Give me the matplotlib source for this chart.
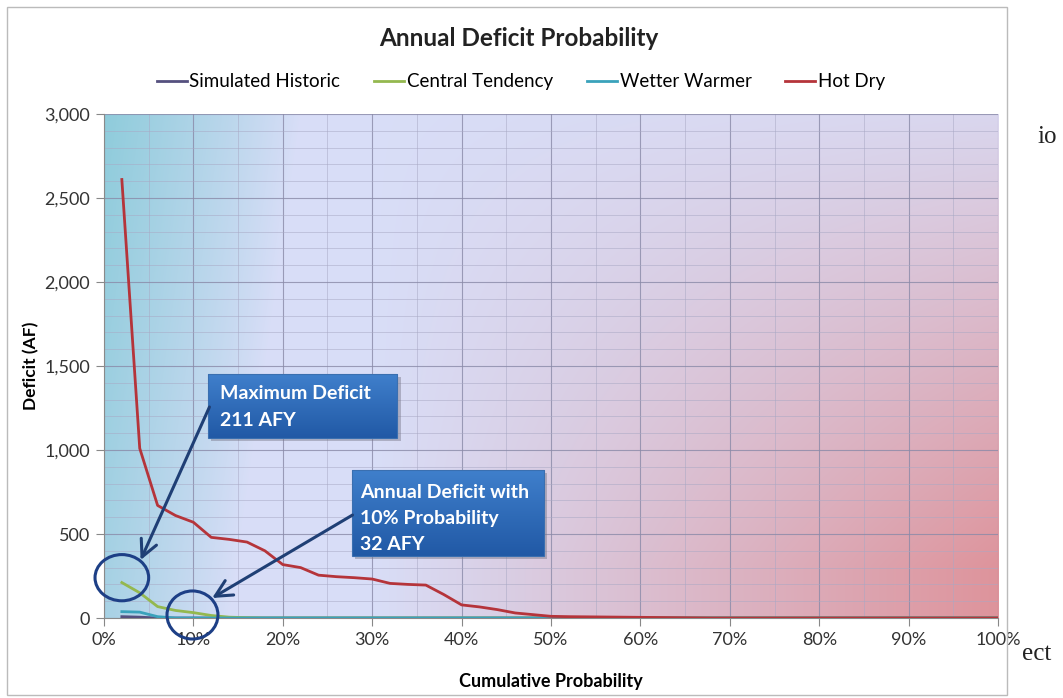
import numpy as np
import matplotlib
matplotlib.use('Agg')
import matplotlib.pyplot as plt
from matplotlib.patches import Ellipse, Rectangle

plt.rcParams['font.family'] = ['Lato', 'DejaVu Sans']

# cumulative probability (%) of each ranked year
prob = [2, 4, 6, 8, 10, 12, 14, 16, 18, 20, 22, 24, 26, 28, 30, 32, 34, 36, 38, 40,
        42, 44, 46, 48, 50, 52, 54, 56, 58, 60, 62, 64, 66, 68, 70, 72, 74, 76, 78, 80,
        82, 84, 86, 88, 90, 92, 94, 96, 98, 100]

hot_dry = [2610, 1010, 670, 610, 570, 480, 468, 452, 400, 318, 300, 255, 246, 240, 232,
           206, 200, 196, 140, 78, 66, 50, 30, 20, 10, 8, 7, 6, 5, 4,
           3, 2, 1, 0, 0, 0, 0, 0, 0, 0, 0, 0, 0, 0, 0, 0, 0, 0, 0, 0]
central = [211, 150, 68, 45, 32, 15, 5, 2] + [0] * 42
wetter = [38, 35, 8] + [0] * 47
historic = [8, 5] + [0] * 48

series = [
    ('Simulated Historic', historic, '#55507f'),
    ('Central Tendency', central, '#94b84f'),
    ('Wetter Warmer', wetter, '#3aa2bb'),
    ('Hot Dry', hot_dry, '#b5343a'),
]

fig = plt.figure(figsize=(10.63, 6.98), dpi=100)
ax = fig.add_axes([0.0978, 0.1146, 0.8411, 0.7221])

# plot-area gradient: cyan top-left, lavender middle, pink bottom-right
h, w = 200, 400
u = np.linspace(0, 1, w)[None, :]
v = np.linspace(1, 0, h)[:, None]
lav = np.array([0.85, 0.87, 0.97])
cyan = np.array([0.56, 0.80, 0.86])
red = np.array([0.87, 0.58, 0.61])
wc = np.clip((0.22 - u - 0.08 * (1 - v)) / 0.22, 0, 1) ** 0.9
wr = np.clip((u - 0.3) / 0.7, 0, 1) * np.clip(1.1 - v, 0, 1)
img = lav[None, None, :] * (1 - wc - wr)[..., None] + cyan * wc[..., None] + red * wr[..., None]
ax.imshow(np.clip(img, 0, 1), extent=[0, 100, 0, 3000], aspect='auto', zorder=0,
          interpolation='bicubic')

ax.set_xlim(0, 100)
ax.set_ylim(0, 3000)
ax.set_xticks(np.arange(0, 101, 10))
ax.set_xticklabels([f'{t}%' for t in range(0, 101, 10)])
ax.set_xticks(np.arange(5, 100, 10), minor=True)
ax.set_yticks(np.arange(0, 3001, 500))
ax.set_yticklabels([f'{t:,}' for t in range(0, 3001, 500)])
ax.set_yticks(np.arange(0, 3001, 100), minor=True)
ax.grid(which='major', color='#8a8aa8', linewidth=0.8, alpha=0.8)
ax.grid(which='minor', color='#a8a8c4', linewidth=0.6, alpha=0.6)
ax.tick_params(which='major', labelsize=13, colors='#888888', labelcolor='#333333',
               length=6, pad=4)
ax.tick_params(which='minor', length=0)
for s in ['top', 'right']:
    ax.spines[s].set_visible(False)
for s in ['left', 'bottom']:
    ax.spines[s].set_color('#8a8a8a')

for name, vals, col in series:
    ax.plot(prob, vals, color=col, linewidth=2, label=name, zorder=3)

ax.set_xlabel('Cumulative Probability', fontsize=13, fontweight='bold', labelpad=18)
ax.set_ylabel('Deficit (AF)', fontsize=12.5, fontweight='bold', labelpad=4)
fig.text(0.488, 0.945, 'Annual Deficit Probability', ha='center', va='center',
         fontsize=17.5, fontweight='bold', color='#222222')
fig.legend(loc='center', bbox_to_anchor=(0.49, 0.883), ncol=4, frameon=False,
           fontsize=13.5, handlelength=1.6, handletextpad=0.15, columnspacing=1.8)


def callout(x0, x1, y0, y1, lines, tx, ty0, dy):
    shadow = Rectangle((x0 + 0.4, y0 - 20), x1 - x0, y1 - y0, facecolor='#777788',
                       alpha=0.45, zorder=4, edgecolor='none')
    ax.add_patch(shadow)
    box = Rectangle((x0, y0), x1 - x0, y1 - y0, facecolor='none', edgecolor='#3a6fb0',
                    linewidth=0.8, zorder=6)
    ax.add_patch(box)
    grad = np.linspace(0, 1, 50)[:, None]
    top = np.array([0.25, 0.50, 0.80])
    bot = np.array([0.13, 0.35, 0.65])
    g = top * (1 - grad[..., None]) + bot * grad[..., None]
    g = np.repeat(g, 2, axis=1)
    im = ax.imshow(g, extent=[x0, x1, y0, y1], aspect='auto', zorder=5)
    im.set_clip_path(box)
    for i, line in enumerate(lines):
        ax.text(tx, ty0 - i * dy, line, color='white', fontsize=14, fontweight='bold',
                va='center', ha='left', zorder=7)


callout(11.6, 32.8, 1071, 1452, ['Maximum Deficit', '211 AFY'], 13.0, 1335, 160)
callout(27.7, 49.2, 369, 881, ['Annual Deficit with', '10% Probability', '32 AFY'],
        28.6, 748, 155)

ring = '#1d3f86'
ax.add_patch(Ellipse((2.0, 240), 6.0, 275, fill=False, edgecolor=ring, linewidth=2.2,
                     zorder=8, clip_on=False))
ax.add_patch(Ellipse((9.9, 18), 5.7, 286, fill=False, edgecolor=ring, linewidth=2.2,
                     zorder=8, clip_on=False))
for start, end in [((11.8, 1256), (4.1, 345)), ((27.8, 613), (12.1, 119))]:
    ax.annotate('', xy=end, xytext=start, zorder=8,
                arrowprops=dict(arrowstyle='->,head_length=0.6,head_width=0.3',
                                color='#1f3f75', lw=2.2, shrinkA=0, shrinkB=0,
                                mutation_scale=20))

# outer chart frame and surrounding page text
fig.patches.append(Rectangle((7 / 1063, 3 / 698), 1000 / 1063, 688 / 698,
                             transform=fig.transFigure, fill=False,
                             edgecolor='#bbbbbb', linewidth=1))
fig.text(1037 / 1063, 1 - 137 / 698, 'io', family='Liberation Serif', fontsize=18,
         ha='left', va='center', color='#222222')
fig.text(1022 / 1063, 1 - 654 / 698, 'ect', family='Liberation Serif', fontsize=18,
         ha='left', va='center', color='#222222')

fig.savefig('out.png', dpi=100)
